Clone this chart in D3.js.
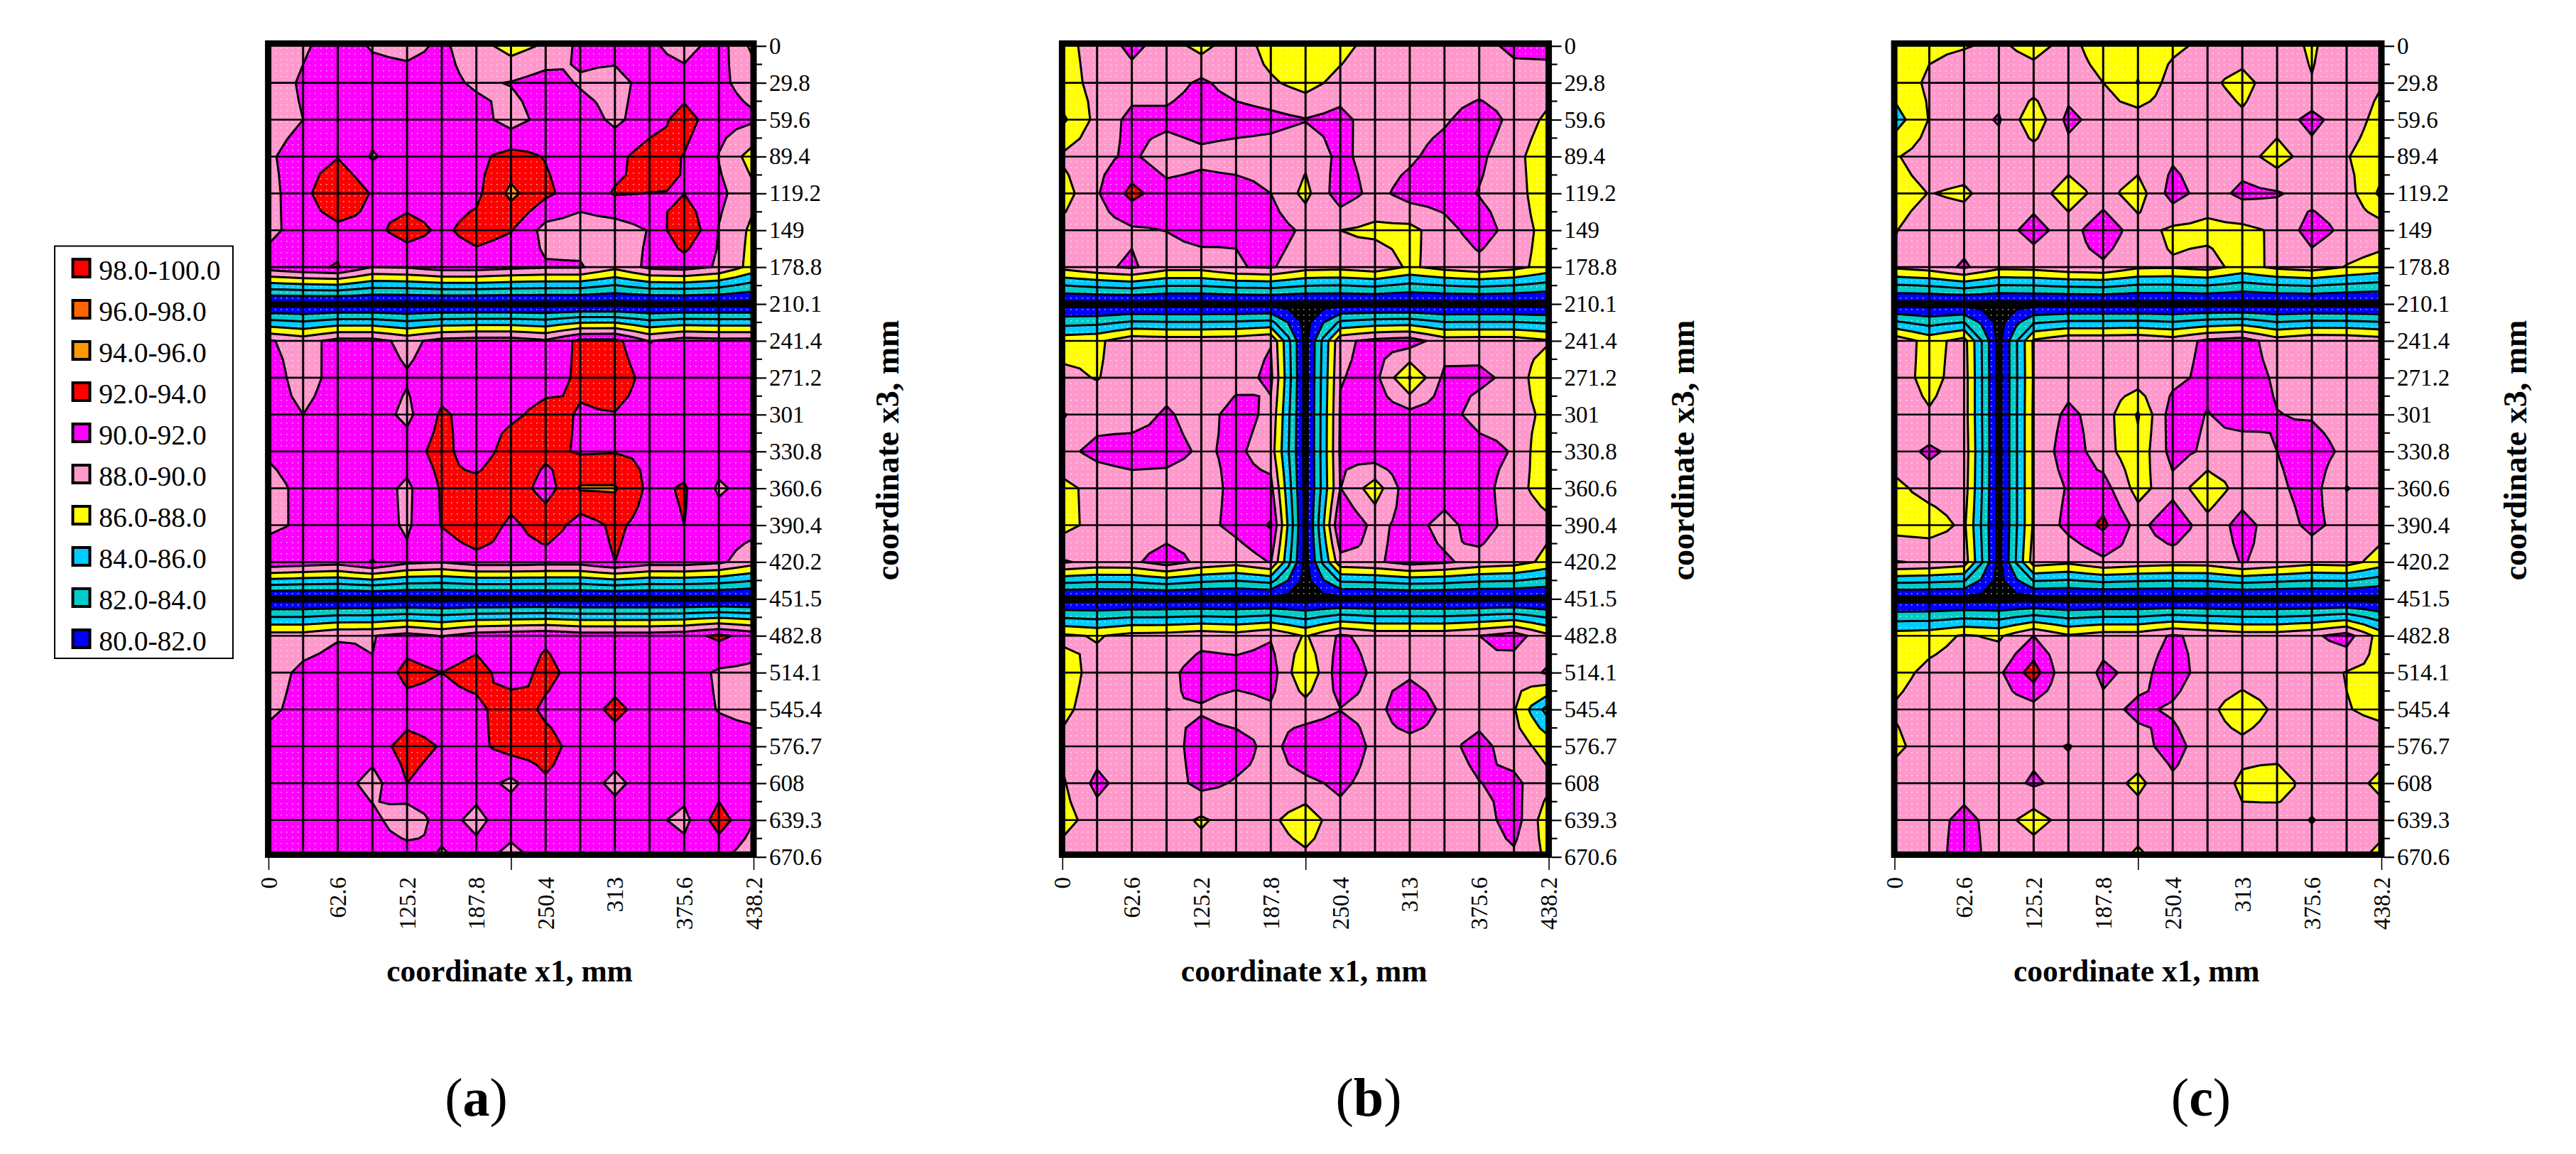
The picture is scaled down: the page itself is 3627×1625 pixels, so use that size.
<!DOCTYPE html>
<html>
<head>
<meta charset="utf-8">
<title>Contour maps</title>
<script src="https://cdn.jsdelivr.net/npm/d3@7"></script>
<style>
  html, body { margin: 0; padding: 0; background: #fff; }
  svg { display: block; }
  text { font-family: "Liberation Serif", serif; fill: #000; }
</style>
</head>
<body>
<svg id="chart" width="3627" height="1625"></svg>
<script>
// Tick labels as printed on the axes
const xLabels = [0, 62.6, 125.2, 187.8, 250.4, 313, 375.6, 438.2];
const xMarks = [0, 219.1, 438.2];
const yLabels = ['0', '29.8', '59.6', '89.4', '119.2', '149', '178.8', '210.1', '241.4', '271.2', '301', '330.8',
  '360.6', '390.4', '420.2', '451.5', '482.8', '514.1', '545.4', '576.7', '608', '639.3', '670.6'];

// Legend, top to bottom
const legendLabels = ['98.0-100.0', '96.0-98.0', '94.0-96.0', '92.0-94.0', '90.0-92.0',
  '88.0-90.0', '86.0-88.0', '84.0-86.0', '82.0-84.0', '80.0-82.0'];
const legendColors = ['#ff0000', '#ff6600', '#ff9900', '#ff0000', '#ff00ff',
  '#ff99cc', '#ffff00', '#00ccff', '#00cccc', '#0000ff'];
const levels = [98, 96, 94, 92, 90, 88, 86, 84, 82, 80];

// Values, one line per x3 row, 15 x1 columns
const gridA = [
  [89, 89.7, 91, 89.8, 89.3, 90.4, 88.8, 87.2, 88.3, 90.5, 90.8, 90.4, 89.1, 91, 87.4],
  [88.9, 90.3, 91, 91, 91, 90.6, 89.7, 90.1, 90.9, 89.8, 89.3, 90.8, 91, 90.4, 89.2],
  [89, 90, 91, 91, 91, 91, 90.9, 89.1, 90.8, 91, 89.6, 91, 92.8, 90.8, 90.3],
  [89.7, 91, 91.9, 89.8, 91, 91, 91.5, 92.7, 91.9, 91, 91.4, 93, 91.9, 89.9, 87],
  [89.3, 91.3, 94.05, 91.8, 91, 91.1, 91.5, 94.5, 92.4, 91, 92.15, 91.97, 91.97, 90.5, 88.5],
  [89.4, 91, 91.4, 91.4, 92.9, 91.6, 92.8, 92.1, 89.3, 89, 89, 90.1, 93.9, 89.9, 87.5],
  [91, 91.7, 92.1, 90, 90.2, 91, 91, 90.5, 90.2, 90.2, 88.5, 90.5, 90.8, 89.8, 87.2],
  [79.3, 79.3, 79.3, 79.3, 79.3, 79.3, 79.3, 79.3, 79.3, 79.3, 79.3, 79.3, 79.3, 79.3, 79.3],
  [90.2, 89.2, 90.7, 90.7, 89.4, 90.7, 91, 91, 90.3, 92.5, 92.6, 89.9, 91, 90.7, 90.7],
  [91, 89.1, 90.8, 91, 90.2, 91, 91, 91, 91, 92.4, 93.3, 91.1, 91, 91, 91],
  [90.8, 90, 91, 91, 89.5, 92.3, 91.2, 91.5, 92.8, 91.8, 91.9, 91, 91, 91, 91],
  [90.3, 91, 91, 91, 91, 92.8, 90.5, 93.3, 92.5, 91.8, 91.9, 91.7, 91, 91, 91],
  [89.2, 90.6, 91, 91, 89.6, 92.2, 93, 93.5, 91, 94.2, 94.2, 91.5, 92.2, 89.7, 90.8],
  [89.4, 90.45, 91, 91, 89.7, 92.1, 94.05, 91.4, 93.4, 91, 92.4, 91.2, 92, 91, 90.7],
  [91.7, 91.2, 90.8, 92.1, 90.5, 90.1, 91, 91, 90.8, 90.8, 92, 90.9, 91, 90.4, 88.8],
  [79.3, 79.3, 79.3, 79.3, 79.3, 79.3, 79.3, 79.3, 79.3, 79.3, 79.3, 79.3, 79.3, 79.3, 79.3],
  [88.9, 88.9, 89.8, 89.9, 90.8, 89.9, 91, 91.3, 91.6, 91, 91, 91, 91.3, 92.4, 91.3],
  [89, 90.5, 91, 90.1, 92.74, 92, 93, 90.7, 92.7, 91, 91, 91, 91, 89.7, 89.5],
  [89.5, 90.8, 91, 91, 91, 91, 91.3, 93.5, 91.5, 91, 92.5, 91.1, 91, 89.9, 89.3],
  [91, 91, 91, 91, 92.8, 91.87, 91.5, 92.8, 92.9, 91, 91, 91, 91, 91, 91],
  [91, 91, 91, 89.2, 92, 91, 91, 89.5, 91.7, 91, 89.5, 91, 91, 91, 91],
  [91, 91, 91, 90.7, 88.4, 91, 89.3, 91.5, 91.5, 91, 91, 90.6, 89.4, 93, 90.1],
  [91, 91, 91, 91, 91.3, 89.6, 91, 89, 91, 91, 91, 91, 91, 90.4, 88.8]
];

const gridB = [
  [87.5, 88.6, 90.6, 89, 87.3, 89.3, 87.1, 86.8, 87.2, 89, 89, 89, 89.3, 90.5, 90.6],
  [87.3, 88.5, 89, 89, 90.4, 89, 88.3, 87.2, 88.7, 89, 89, 89, 89, 89, 89],
  [85.6, 88.6, 90.6, 90.6, 91.2, 91, 90.6, 90.1, 90.7, 88.8, 89, 89.7, 91.2, 89.4, 87.5],
  [88.3, 89.4, 90.4, 88.7, 89.4, 89, 89, 88.5, 90.5, 89.1, 89.6, 91, 90.4, 88.7, 86.5],
  [87, 89.8, 92.6, 90.9, 91.1, 91, 90, 87.4, 91.2, 89.3, 90.9, 91, 89.9, 89, 86.4],
  [88.7, 89, 89.7, 90.05, 91, 90.1, 91, 89.6, 88, 87.6, 87.4, 89.2, 91, 89.1, 87.2],
  [88.6, 89.6, 90.3, 88.8, 88.8, 89.9, 90.2, 88.8, 88.6, 89.2, 87.7, 88.7, 89.3, 88.6, 87.2],
  [79.3, 79.3, 79.3, 79.3, 79.3, 79.3, 79.3, 79.3, 79.3, 79.3, 79.3, 79.3, 79.3, 79.3, 79.3],
  [87.2, 87.6, 89.3, 89, 89, 89.2, 89.9, 79.3, 89.5, 90.6, 91, 88.9, 89, 89, 88.2],
  [88.5, 87.9, 89, 89, 89, 89.2, 90.45, 79.3, 89.9, 90.6, 85.8, 90.5, 90.5, 89.4, 86],
  [90.1, 89.3, 89, 90.3, 89, 90.9, 89.5, 79.3, 90.2, 91.2, 90.7, 91, 89, 89, 87.4],
  [89.5, 90.5, 91, 90.8, 89.7, 90.4, 89, 79.3, 90.3, 91.4, 91.4, 91.4, 91, 89.8, 86],
  [87.4, 88.7, 89, 89, 89, 90.6, 90.6, 79.3, 90.05, 86.9, 91.5, 91, 91, 88.7, 87],
  [87.3, 88.7, 89, 89, 89.3, 90.6, 92.2, 79.3, 92.05, 89.4, 90.8, 89.3, 91, 89.1, 88.5],
  [90.2, 89.5, 89.6, 91, 89.5, 88.8, 90.1, 79.3, 89.3, 89.7, 90.8, 90.3, 89.3, 88.9, 87.4],
  [79.3, 79.3, 79.3, 79.3, 79.3, 79.3, 79.3, 79.3, 79.3, 79.3, 79.3, 79.3, 79.3, 79.3, 79.3],
  [88.4, 87.8, 88.7, 88.8, 89.3, 88.9, 89.8, 87.8, 90.3, 89.3, 89.3, 89.3, 90, 91, 88.4],
  [87, 88.8, 89, 89.4, 91, 91, 91, 85.95, 91.3, 89.6, 89.7, 89.2, 89.9, 88.5, 90.4],
  [87.5, 89, 89, 90.02, 89.8, 88.9, 89.7, 89, 89.95, 89.4, 91.3, 89.6, 89, 88.2, 83],
  [88.5, 89, 89, 89, 91, 91, 89.3, 91.5, 91.5, 89.5, 89.3, 89.4, 90.7, 88.9, 87.2],
  [87.7, 90.6, 88.8, 89, 90.6, 89.8, 89.5, 89.55, 90.4, 89.2, 89, 89, 89.95, 90.5, 88.5],
  [87.2, 89, 89, 89, 87.7, 89, 88.4, 86.8, 89.3, 89, 89, 89, 89, 91, 86.6],
  [88.9, 89, 89, 89, 89, 89, 89, 88.4, 89, 89, 89, 89, 89, 89.6, 87.6]
];

const gridC = [
  [87, 87.7, 87.9, 88.3, 87.4, 88.6, 87, 86.9, 87.5, 88.6, 89, 89, 87.7, 89.5, 89],
  [87, 88.3, 89, 89, 89, 89, 88, 85.9, 89, 88.4, 87.4, 89, 88.1, 89, 88.1],
  [85, 88.1, 89, 90.2, 86.5, 90.6, 89, 89, 89, 89, 88.3, 89, 90.6, 88.9, 87.4],
  [87.8, 89, 89, 89, 89, 89, 89, 89, 89.7, 89, 89, 87, 89.2, 88.1, 87],
  [87.2, 88.05, 87.7, 89, 89, 87, 88.8, 87, 90.9, 89, 90.5, 90.2, 89.2, 88.9, 85.5],
  [87.9, 89, 89, 89, 90.8, 89, 91.5, 88.8, 87.6, 87.5, 87.5, 88.3, 91, 89.4, 89],
  [88.3, 88.9, 90.3, 88.5, 88.7, 89.3, 89.6, 88.3, 88.2, 88.7, 87.3, 88.4, 88.9, 87.9, 87.2],
  [79.3, 79.3, 79.3, 79.3, 79.3, 79.3, 79.3, 79.3, 79.3, 79.3, 79.3, 79.3, 79.3, 79.3, 79.3],
  [89.4, 87.2, 88.8, 79.3, 88.3, 89.5, 89.5, 89.7, 89, 90.4, 91, 88.9, 89.7, 89.6, 89],
  [89, 87.3, 89, 79.3, 88.2, 89, 89, 89, 89.4, 90.6, 91, 89.7, 89, 89, 89],
  [89, 88.2, 89, 79.3, 88.3, 90.5, 89, 85.8, 91.1, 89.9, 91, 90.05, 89.8, 89, 89],
  [89, 90.4, 89.2, 79.3, 88.3, 91.2, 88.8, 86.6, 90.8, 89.6, 88.8, 90, 91, 89.5, 89],
  [87.5, 88.7, 89, 79.3, 88.3, 90.2, 90.9, 87.2, 89.3, 86.5, 89, 89.6, 90.8, 87.9, 89],
  [87.2, 87, 88.4, 79.3, 88.3, 90.6, 92.4, 89.3, 91.5, 88.8, 90.7, 89, 90.5, 89.2, 89],
  [90.1, 89.8, 89.1, 79.3, 89, 88.4, 89.6, 89.1, 88.8, 88.9, 90.1, 89.4, 88.7, 88.9, 87],
  [79.3, 79.3, 79.3, 79.3, 79.3, 79.3, 79.3, 79.3, 79.3, 79.3, 79.3, 79.3, 79.3, 79.3, 79.3],
  [87, 87.2, 88.2, 87.7, 90, 88.2, 89, 89, 90.2, 89.5, 89, 89, 89.6, 90.9, 87],
  [87.3, 88.5, 89, 89.6, 93, 88, 90.5, 89.3, 91, 89, 89, 89, 89, 87.9, 87.5],
  [88.2, 89, 89, 89, 89.2, 88.5, 89.4, 90.4, 89.7, 88.5, 86.9, 88.4, 89, 88.1, 87.5],
  [87.5, 89, 89, 89, 89.4, 90.1, 89, 89.3, 90.8, 88.8, 88.5, 89, 89, 89, 89],
  [89, 89, 89, 89, 90.3, 89.3, 89, 87.5, 89.6, 89, 87.7, 86.9, 89, 89, 87.4],
  [89, 89, 90.7, 89, 87, 89, 89, 89, 89, 89, 88.3, 89, 87.9, 89, 89],
  [89, 89, 91, 89, 89.5, 87.9, 89, 87.6, 89, 89, 89, 89, 89, 89, 87.2]
];

const panels = [
  { grid: gridA, name: 'a', left: 378, right: 1061, tag: 670.6 },
  { grid: gridB, name: 'b', left: 1495.8, right: 2180.6, tag: 1927 },
  { grid: gridC, name: 'c', left: 2667.5, right: 3353, tag: 3099 }
];

const axisTop = 64.7;
const axisBottom = 1206.7;
const nCols = gridA[0].length;
const nRows = gridA.length;

// The contour chart splits every cell at its centre, so the lines bend inside
// a cell. Tracing on a doubled mesh (edge midpoints and cell centres) does the same.
function centreMesh(grid) {
  const out = [];
  for (let r = 0; r < 2 * nRows - 1; r++) {
    for (let c = 0; c < 2 * nCols - 1; c++) {
      const r0 = Math.floor(r / 2), r1 = Math.ceil(r / 2);
      const c0 = Math.floor(c / 2), c1 = Math.ceil(c / 2);
      out.push((grid[r0][c0] + grid[r0][c1] + grid[r1][c0] + grid[r1][c1]) / 4);
    }
  }
  return out;
}

const svg = d3.select('#chart');
const defs = svg.append('defs');

// faint dot raster that sits on the filled areas of the original
defs.append('pattern')
  .attr('id', 'dots')
  .attr('width', 8)
  .attr('height', 8)
  .attr('patternUnits', 'userSpaceOnUse')
  .append('rect')
  .attr('x', 3)
  .attr('y', 3)
  .attr('width', 1.6)
  .attr('height', 1.6)
  .attr('fill', '#fff')
  .attr('fill-opacity', 0.65);

const contours = d3.contours()
  .size([2 * nCols - 1, 2 * nRows - 1])
  .thresholds(levels.slice().reverse());

panels.forEach(panel => {
  const x = d3.scaleLinear().domain([0, 438.2]).range([panel.left, panel.right]);
  const y = d3.scalePoint().domain(yLabels).range([axisTop, axisBottom]);

  // mesh index -> page position, contour output has the mesh points at +0.5
  const colPos = d3.scaleLinear().domain([0.5, 2 * nCols - 1.5]).range([panel.left, panel.right]);
  const rowPos = d3.scaleLinear().domain([0.5, 2 * nRows - 1.5]).range([axisTop, axisBottom]);
  const path = d3.geoPath(d3.geoTransform({
    point(px, py) { this.stream.point(colPos(px), rowPos(py)); }
  }));

  const g = svg.append('g').attr('class', 'panel-' + panel.name);
  const clipId = 'clip-' + panel.name;
  defs.append('clipPath').attr('id', clipId).append('rect')
    .attr('x', panel.left)
    .attr('y', axisTop)
    .attr('width', panel.right - panel.left)
    .attr('height', axisBottom - axisTop);

  const plot = g.append('g').attr('clip-path', `url(#${clipId})`);

  // anything under the lowest level stays black
  plot.append('rect')
    .attr('x', panel.left)
    .attr('y', axisTop)
    .attr('width', panel.right - panel.left)
    .attr('height', axisBottom - axisTop)
    .attr('fill', '#000');

  const bands = contours(centreMesh(panel.grid));
  plot.selectAll('path.band')
    .data(bands)
    .enter()
    .append('path')
    .attr('class', 'band')
    .attr('d', path)
    .attr('fill', d => legendColors[levels.indexOf(d.value)]);

  plot.append('rect')
    .attr('x', panel.left)
    .attr('y', axisTop)
    .attr('width', panel.right - panel.left)
    .attr('height', axisBottom - axisTop)
    .attr('fill', 'url(#dots)');

  plot.selectAll('path.line')
    .data(bands)
    .enter()
    .append('path')
    .attr('class', 'line')
    .attr('d', path)
    .attr('fill', 'none')
    .attr('stroke', '#000')
    .attr('stroke-width', 3);

  // grid on every data row and column
  plot.selectAll('line.col')
    .data(d3.range(1, nCols - 1))
    .enter()
    .append('line')
    .attr('x1', d => colPos(2 * d + 0.5))
    .attr('x2', d => colPos(2 * d + 0.5))
    .attr('y1', axisTop)
    .attr('y2', axisBottom)
    .attr('stroke', '#000')
    .attr('stroke-width', 3);

  plot.selectAll('line.row')
    .data(yLabels.slice(1, -1))
    .enter()
    .append('line')
    .attr('x1', panel.left)
    .attr('x2', panel.right)
    .attr('y1', d => y(d))
    .attr('y2', d => y(d))
    .attr('stroke', '#000')
    .attr('stroke-width', 2.6);

  // heavy frame
  g.append('rect')
    .attr('x', panel.left - 0.4)
    .attr('y', 61.3)
    .attr('width', panel.right - panel.left + 0.4)
    .attr('height', 1142.2)
    .attr('fill', 'none')
    .attr('stroke', '#000')
    .attr('stroke-width', 9);

  // x3 axis on the right, long ticks at labels, short ones half way
  const frameRight = panel.right + 4;
  const yAxis = d3.axisRight(y).tickSize(14).tickPadding(4);
  const yG = g.append('g')
    .attr('transform', `translate(${frameRight},0)`)
    .call(yAxis);
  yG.select('.domain').remove();
  yG.selectAll('.tick line').attr('stroke', '#000').attr('stroke-width', 2.2);
  yG.selectAll('.tick text').attr('font-size', 33).attr('font-family', '"Liberation Serif", serif');

  g.selectAll('line.minor')
    .data(d3.range(0, nRows - 1))
    .enter()
    .append('line')
    .attr('x1', frameRight)
    .attr('x2', frameRight + 8)
    .attr('y1', d => (y(yLabels[d]) + y(yLabels[d + 1])) / 2)
    .attr('y2', d => (y(yLabels[d]) + y(yLabels[d + 1])) / 2)
    .attr('stroke', '#000')
    .attr('stroke-width', 2.2);

  // x1 axis: three tick marks, labels stand vertically
  const markAxis = d3.axisBottom(x).tickValues(xMarks).tickSize(18).tickFormat('');
  const markG = g.append('g').attr('transform', 'translate(0,1207)').call(markAxis);
  markG.select('.domain').remove();
  markG.selectAll('.tick line').attr('stroke', '#000').attr('stroke-width', 1.6);

  const labelAxis = d3.axisBottom(x).tickValues(xLabels).tickSize(0).tickFormat(d => String(d));
  const labelG = g.append('g').attr('transform', 'translate(0,1235)').call(labelAxis);
  labelG.select('.domain').remove();
  labelG.selectAll('.tick text')
    .attr('font-size', 33)
    .attr('font-family', '"Liberation Serif", serif')
    .attr('text-anchor', 'end')
    .attr('dominant-baseline', 'central')
    .attr('transform', 'rotate(-90)')
    .attr('x', 0)
    .attr('y', 0)
    .attr('dy', null);

  // axis titles and panel tag
  g.append('text')
    .attr('x', (panel.left + panel.right) / 2 - 2)
    .attr('y', 1381.7)
    .attr('text-anchor', 'middle')
    .attr('font-size', 43.5)
    .attr('font-weight', 'bold')
    .text('coordinate x1, mm');

  g.append('text')
    .attr('transform', `translate(${panel.right + 204},634) rotate(-90)`)
    .attr('text-anchor', 'middle')
    .attr('font-size', 46)
    .attr('font-weight', 'bold')
    .text('coordinate x3, mm');

  const tag = g.append('text')
    .attr('x', panel.tag)
    .attr('y', 1571)
    .attr('text-anchor', 'middle')
    .attr('font-size', 76);
  tag.append('tspan').text('(');
  tag.append('tspan').attr('font-weight', 'bold').text(panel.name);
  tag.append('tspan').text(')');
});

// legend box
const legend = svg.append('g').attr('class', 'legend');
legend.append('rect')
  .attr('x', 77)
  .attr('y', 346.5)
  .attr('width', 251)
  .attr('height', 580.5)
  .attr('fill', '#fff')
  .attr('stroke', '#000')
  .attr('stroke-width', 2);

const legendY = d3.scalePoint().domain(legendLabels).range([377.5, 899.5]);
legend.selectAll('rect.swatch')
  .data(legendLabels)
  .enter()
  .append('rect')
  .attr('class', 'swatch')
  .attr('x', 102.5)
  .attr('y', d => legendY(d) - 12.5)
  .attr('width', 24)
  .attr('height', 25)
  .attr('fill', (d, i) => legendColors[i])
  .attr('stroke', '#000')
  .attr('stroke-width', 4);

legend.selectAll('text.entry')
  .data(legendLabels)
  .enter()
  .append('text')
  .attr('class', 'entry')
  .attr('x', 139.3)
  .attr('y', d => legendY(d) + 16)
  .attr('font-size', 39.5)
  .text(d => d);
</script>
</body>
</html>
